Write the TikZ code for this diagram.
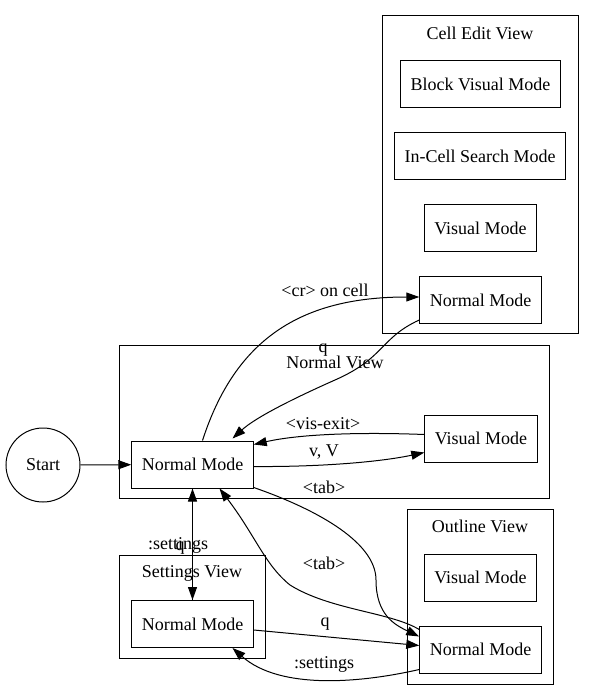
\documentclass[tikz,border=0pt]{standalone}
\usepackage{fontspec}
\setmainfont{Liberation Serif}
\usetikzlibrary{arrows.meta}

\begin{document}
\begin{tikzpicture}[
            x=1pt, y=-1pt,
            mode/.style = {rectangle, draw, line width=1pt, minimum height=47pt, inner xsep=10pt, font=\fontsize{18}{21}\selectfont},
            startstate/.style = {circle, draw, line width=1pt, minimum size=74pt, inner sep=0pt, font=\fontsize{18}{21}\selectfont},
            view/.style = {draw, line width=1pt},
            viewname/.style = {font=\fontsize{18}{21}\selectfont},
            elabel/.style = {font=\fontsize{18}{21}\selectfont},
            trans/.style = {draw, line width=1pt, -{Triangle[length=13pt, width=9pt]}},
        ]
            \useasboundingbox (0,0) rectangle (595,700);

            % View boxes
            \draw[view] (382,16) rectangle (578,333);
            \draw[view] (119,345) rectangle (549,498);
            \draw[view] (407,509) rectangle (553,684);
            \draw[view] (119,555) rectangle (265,658);
            \node[viewname] (cellname) at (480,33) {Cell Edit View};
            \node[viewname] (normalname) at (335,362) {Normal View};
            \node[viewname] (outlinename) at (480,526) {Outline View};
            \node[viewname] (settingsname) at (192,573) {Settings View};

            % Modes
            \node[startstate] (start) at (43,465) {Start};
            \node[mode] (nvnormal) at (192.5,464.5) {Normal Mode};
            \node[mode] (nvvisual) at (481,438.5) {Visual Mode};
            \node[mode] (ceblock) at (480.5,84.5) {Block Visual Mode};
            \node[mode] (cesearch) at (480,156) {In-Cell Search Mode};
            \node[mode] (cevisual) at (480.5,228) {Visual Mode};
            \node[mode] (cenormal) at (480.5,300) {Normal Mode};
            \node[mode] (olvisual) at (480.5,577.5) {Visual Mode};
            \node[mode] (olnormal) at (480.5,649.5) {Normal Mode};
            \node[mode] (stnormal) at (192.5,624) {Normal Mode};

            % Transitions
            \draw[trans] (start) -- (nvnormal);
            \draw[trans] ([xshift=10pt]nvnormal.north) .. controls (235,340) and (300,297) .. ([yshift=3pt]cenormal.west);
            \draw[trans] ([yshift=-20pt]cenormal.west) .. controls (380,338) and (385,358) .. (335,380)
                .. controls (290,400) and (255,418) .. ([xshift=40pt,yshift=2pt]nvnormal.north);
            \draw[trans] ([yshift=4pt]nvvisual.west) .. controls (360,432) and (300,434) .. ([yshift=20pt]nvnormal.east);
            \draw[trans] ([yshift=-2pt]nvnormal.east) .. controls (320,467) and (380,462) .. ([yshift=-14pt]nvvisual.west);
            \draw[trans] ([yshift=1pt]nvnormal.south east) .. controls (310,507) and (376,540) .. (376,580)
                .. controls (376,615) and (395,625) .. ([yshift=13pt]olnormal.west);
            \draw[trans] ([yshift=20pt]olnormal.west) .. controls (390,612) and (330,610) .. (290,585)
                .. controls (265,565) and (255,535) .. ([xshift=27pt]nvnormal.south);
            \draw[trans] (nvnormal.south) -- (stnormal.north);
            \draw[trans] (stnormal.north) -- (nvnormal.south);
            \draw[trans] ([yshift=-6pt]stnormal.east) -- ([yshift=4pt]olnormal.west);
            \draw[trans] ([yshift=-20pt]olnormal.west) .. controls (360,683) and (280,690) .. ([xshift=40pt]stnormal.south);

            % Transition labels
            \node[elabel] (lcr) at (325,290) {\textless cr\textgreater{} on cell};
            \node[elabel] (lq) at (323,350) {q};
            \node[elabel] (lvisexit) at (323,424) {\textless vis-exit\textgreater};
            \node[elabel] (lv) at (324,452) {v, V};
            \node[elabel] (ltab) at (324,487) {\textless tab\textgreater};
            \node[elabel] (ltabback) at (324,563) {\textless tab\textgreater};
            \node[elabel] (lsettings) at (178,545) {:settings};
            \node[elabel] (lqsettings) at (180,548) {q};
            \node[elabel] (lqoutline) at (325,624) {q};
            \node[elabel] (lsettingsback) at (324,664) {:settings};
        \end{tikzpicture}
\end{document}
